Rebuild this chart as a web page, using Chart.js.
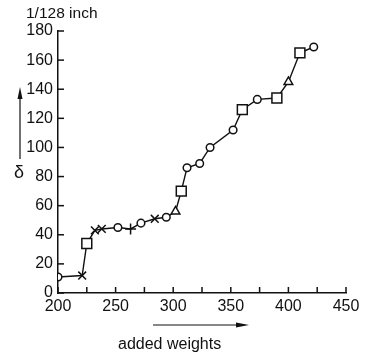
<!DOCTYPE html>
<html>
<head>
<meta charset="utf-8">
<script src="https://cdn.jsdelivr.net/npm/chart.js@4"></script>
<style>
  html, body { margin: 0; padding: 0; background: #fff; }
  #wrap { width: 376px; height: 356px; }
</style>
</head>
<body>
<div id="wrap"><canvas id="deflectionChart" width="376" height="356"></canvas></div>
<script>
// readings in plotting order (added weight vs deflection in 1/128 inch)
const addedWeights = [200, 221, 225, 232, 238, 252, 263, 272, 284, 294, 302, 307, 312, 323, 332, 352, 360, 373, 390, 400, 410, 422];
const deflections  = [11, 12, 34, 43, 44, 45, 44, 48, 51, 52, 56, 70, 86, 89, 100, 112, 126, 133, 134, 145, 165, 169];
const markers      = ['circle', 'crossRot', 'rect', 'crossRot', 'crossRot', 'circle', 'cross', 'circle', 'crossRot', 'circle', 'triangle', 'rect', 'circle', 'circle', 'circle', 'circle', 'rect', 'circle', 'rect', 'triangle', 'rect', 'circle'];
const xTickLabels  = [200, 250, 300, 350, 400, 450];
const yTickLabels  = [0, 20, 40, 60, 80, 100, 120, 140, 160, 180];

const ink = '#111';
const fontFamily = '"Liberation Sans", Arial, sans-serif';

const markerSize = { circle: 3.8, crossRot: 5.5, cross: 5.5, rect: 7, triangle: 5 };

// ticks of the old print point inward, and the axis arrows sit outside the frame
const decorations = {
  id: 'decorations',
  afterDraw(chart) {
    const ctx = chart.ctx;
    const xs = chart.scales.x;
    const ys = chart.scales.y;
    const area = chart.chartArea;
    ctx.save();
    ctx.strokeStyle = ink;
    ctx.fillStyle = ink;
    ctx.lineWidth = 1.5;

    xs.ticks.forEach((t) => {
      const px = xs.getPixelForValue(t.value);
      ctx.beginPath();
      ctx.moveTo(px, area.bottom);
      ctx.lineTo(px, area.bottom - 6);
      ctx.stroke();
    });
    ys.ticks.forEach((t) => {
      const py = ys.getPixelForValue(t.value);
      ctx.beginPath();
      ctx.moveTo(area.left, py);
      ctx.lineTo(area.left + 6, py);
      ctx.stroke();
    });

    // unit label above the y axis
    ctx.font = '15.5px ' + fontFamily;
    ctx.textAlign = 'left';
    ctx.textBaseline = 'middle';
    ctx.fillText('1/128 inch', 26, 14);

    // y arrow and symbol
    ctx.lineWidth = 1.2;
    ctx.beginPath();
    ctx.moveTo(20, 159);
    ctx.lineTo(20, 92);
    ctx.stroke();
    ctx.beginPath();
    ctx.moveTo(20, 87);
    ctx.lineTo(17.5, 99);
    ctx.lineTo(22.5, 99);
    ctx.closePath();
    ctx.fill();

    ctx.font = '18px ' + fontFamily;
    ctx.textAlign = 'center';
    ctx.fillText('δ', 19, 173);

    // x arrow and title
    ctx.beginPath();
    ctx.moveTo(153, 325);
    ctx.lineTo(240, 325);
    ctx.stroke();
    ctx.beginPath();
    ctx.moveTo(249, 325);
    ctx.lineTo(236, 322.5);
    ctx.lineTo(236, 327.5);
    ctx.closePath();
    ctx.fill();

    ctx.font = '16px ' + fontFamily;
    ctx.textAlign = 'left';
    ctx.fillText('added weights', 118, 345);
    ctx.restore();
  }
};

new Chart(document.getElementById('deflectionChart'), {
  type: 'scatter',
  data: {
    datasets: [{
      data: addedWeights.map((w, i) => ({ x: w, y: deflections[i] })),
      showLine: true,
      borderColor: ink,
      borderWidth: 1.4,
      pointStyle: markers,
      pointRadius: markers.map((m) => markerSize[m]),
      pointBorderWidth: 1.5,
      pointBorderColor: ink,
      pointBackgroundColor: '#fff',
      tension: 0
    }]
  },
  plugins: [decorations],
  options: {
    responsive: false,
    animation: false,
    layout: { padding: { left: 0, right: 30, top: 31, bottom: 0 } },
    plugins: { legend: { display: false }, tooltip: { enabled: false } },
    scales: {
      x: {
        type: 'linear',
        min: xTickLabels[0],
        max: xTickLabels[xTickLabels.length - 1],
        afterFit: (scale) => { scale.height = 63; },
        grid: { display: false, drawTicks: false },
        border: { display: true, color: ink, width: 1.5 },
        ticks: {
          stepSize: 25,
          padding: 4,
          color: ink,
          font: { family: fontFamily, size: 16 },
          maxRotation: 0,
          autoSkip: false,
          callback: (v) => (xTickLabels.includes(v) ? v : '')
        }
      },
      y: {
        min: yTickLabels[0],
        max: yTickLabels[yTickLabels.length - 1],
        afterFit: (scale) => { scale.width = 58; },
        grid: { display: false, drawTicks: false },
        border: { display: true, color: ink, width: 1.5 },
        ticks: {
          stepSize: 20,
          padding: 5,
          color: ink,
          font: { family: fontFamily, size: 16 },
          callback: (v) => (yTickLabels.includes(v) ? v : '')
        }
      }
    }
  }
});
</script>
</body>
</html>
